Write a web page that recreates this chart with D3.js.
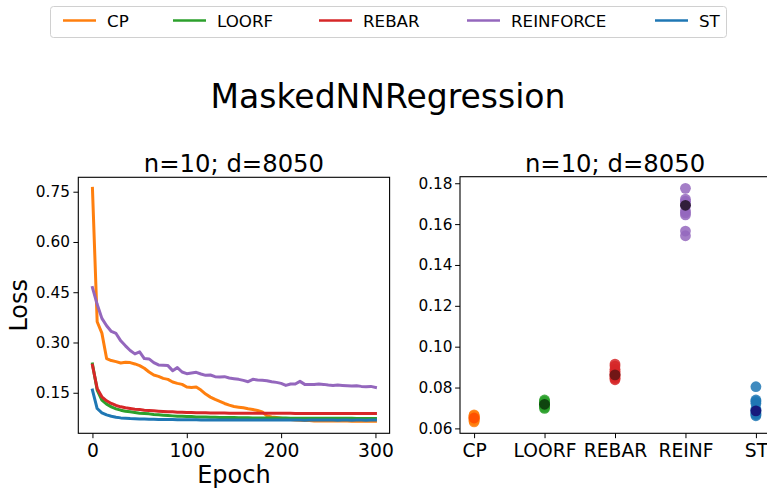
<!DOCTYPE html>
<html>
<head>
<meta charset="utf-8">
<script src="https://cdn.jsdelivr.net/npm/d3@7"></script>
<style>
  body { margin: 0; background: #fff; }
  text { font-family: "DejaVu Sans", sans-serif; fill: #000; }
</style>
</head>
<body>
<svg id="chart" width="767" height="489"></svg>
<script>
// series names, colours of the legend
const methods = ["CP", "LOORF", "REBAR", "REINFORCE", "ST"];
const colors = ["#ff7f0e", "#2ca02c", "#d62728", "#9467bd", "#1f77b4"];
const meanColors = ["#ff4f00", "#0e3f0e", "#6b1515", "#2b1a33", "#16167a"];

// loss logged every 5 epochs
const epochs = d3.range(0, 301, 5);

const lossCP = [
  0.760, 0.362, 0.328, 0.252, 0.246, 0.243, 0.239, 0.241, 0.240, 0.236,
  0.231, 0.223, 0.212, 0.203, 0.199, 0.193, 0.190, 0.182, 0.178, 0.175,
  0.167, 0.166, 0.167, 0.158, 0.146, 0.137, 0.130, 0.124, 0.118, 0.113,
  0.109, 0.107, 0.105, 0.102, 0.100, 0.097, 0.093, 0.081, 0.078, 0.076,
  0.074, 0.072, 0.070, 0.069, 0.068, 0.067, 0.067, 0.066, 0.066, 0.066,
  0.0655, 0.0655, 0.066, 0.0655, 0.0655, 0.065, 0.0655, 0.065, 0.065, 0.065,
  0.065
];
const lossLOORF = [
  0.236, 0.158, 0.128, 0.116, 0.108, 0.102, 0.098, 0.095, 0.093, 0.091,
  0.089, 0.088, 0.087, 0.085, 0.084, 0.083, 0.082, 0.081, 0.080, 0.080,
  0.079, 0.079, 0.078, 0.078, 0.0775, 0.077, 0.0768, 0.0765, 0.0762, 0.076,
  0.0758, 0.0756, 0.0754, 0.0752, 0.075, 0.0749, 0.0748, 0.0747, 0.0746, 0.0745,
  0.0744, 0.0743, 0.0742, 0.0741, 0.074, 0.074, 0.0739, 0.0739, 0.0738, 0.0738,
  0.0737, 0.0737, 0.0737, 0.0736, 0.0736, 0.0736, 0.0735, 0.0735, 0.0735, 0.0735,
  0.0734
];
const lossREBAR = [
  0.232, 0.163, 0.138, 0.126, 0.118, 0.112, 0.108, 0.105, 0.103, 0.101,
  0.100, 0.098, 0.097, 0.096, 0.095, 0.094, 0.093, 0.093, 0.092, 0.092,
  0.091, 0.091, 0.090, 0.090, 0.090, 0.0898, 0.0896, 0.0895, 0.0893, 0.0892,
  0.0891, 0.089, 0.089, 0.0889, 0.0888, 0.0888, 0.0887, 0.0887, 0.0886, 0.0886,
  0.0885, 0.0885, 0.0885, 0.0884, 0.0884, 0.0884, 0.0883, 0.0883, 0.0883, 0.0882,
  0.0882, 0.0882, 0.0881, 0.0881, 0.0881, 0.088, 0.088, 0.088, 0.088, 0.0879,
  0.0879
];
const lossREINFORCE = [
  0.464, 0.414, 0.372, 0.350, 0.333, 0.327, 0.305, 0.290, 0.276, 0.266,
  0.272, 0.252, 0.251, 0.240, 0.233, 0.232, 0.231, 0.216, 0.225, 0.212,
  0.207, 0.209, 0.211, 0.206, 0.202, 0.203, 0.198, 0.197, 0.198, 0.194,
  0.192, 0.190, 0.187, 0.183, 0.190, 0.188, 0.187, 0.186, 0.183, 0.181,
  0.178, 0.172, 0.176, 0.176, 0.184, 0.175, 0.175, 0.175, 0.176, 0.175,
  0.173, 0.172, 0.173, 0.172, 0.171, 0.170, 0.171, 0.169, 0.168, 0.169,
  0.166
];
const lossST = [
  0.158, 0.103, 0.090, 0.084, 0.080, 0.077, 0.075, 0.074, 0.073, 0.0725,
  0.072, 0.0715, 0.071, 0.0708, 0.0705, 0.0703, 0.0701, 0.070, 0.0698, 0.0697,
  0.0695, 0.0694, 0.0692, 0.0688, 0.069, 0.0689, 0.0688, 0.0686, 0.0688, 0.0687,
  0.0686, 0.0688, 0.0685, 0.0684, 0.0686, 0.0685, 0.0687, 0.0684, 0.0685, 0.0686,
  0.0685, 0.0684, 0.0686, 0.0684, 0.0687, 0.0683, 0.0685, 0.0684, 0.0686, 0.0684,
  0.0684, 0.0685, 0.0683, 0.0684, 0.0685, 0.0683, 0.0684, 0.0684, 0.0683, 0.0684,
  0.0684
];
const lossSeries = [lossCP, lossLOORF, lossREBAR, lossREINFORCE, lossST];

// final loss per run (right panel)
const catLabels = ["CP", "LOORF", "REBAR", "REINF", "ST"];
const finalCP = [0.0632, 0.0638, 0.0642, 0.0646, 0.0650, 0.0653, 0.0656, 0.0660, 0.0663, 0.0666];
const finalLOORF = [0.0698, 0.0703, 0.0708, 0.0712, 0.0716, 0.0719, 0.0723, 0.0728, 0.0733, 0.0739];
const finalREBAR = [0.0838, 0.0845, 0.0852, 0.0858, 0.0864, 0.0872, 0.0880, 0.0890, 0.0905, 0.0915];
const finalREINF = [0.1543, 0.1566, 0.1645, 0.1655, 0.1665, 0.1690, 0.1700, 0.1712, 0.1722, 0.1775];
const finalST = [0.0662, 0.0668, 0.0673, 0.0680, 0.0688, 0.0695, 0.0722, 0.0732, 0.0739, 0.0804];
const finalMeans = [0.0651, 0.0718, 0.0862, 0.1692, 0.0686];
const finalSeries = [finalCP, finalLOORF, finalREBAR, finalREINF, finalST];

const lossTicks = [0.15, 0.30, 0.45, 0.60, 0.75];
const epochTicks = [0, 100, 200, 300];
const finalTicks = [0.06, 0.08, 0.10, 0.12, 0.14, 0.16, 0.18];

const svg = d3.select('#chart');
svg.append('rect').attr('width', 767).attr('height', 489).attr('fill', '#fff');

// ---- legend
let legend = svg.append('g');
legend.append('rect')
  .attr('x', 50.5).attr('y', 6.5).attr('width', 676).attr('height', 31)
  .attr('rx', 3).attr('fill', '#fff').attr('stroke', '#d0d0d0');
const legendTextX = [107, 217, 363, 511, 699];
methods.forEach((m, i) => {
  legend.append('line')
    .attr('x1', legendTextX[i] - 44).attr('x2', legendTextX[i] - 11)
    .attr('y1', 20.5).attr('y2', 20.5)
    .attr('stroke', colors[i]).attr('stroke-width', 2.6);
  legend.append('text')
    .attr('x', legendTextX[i]).attr('y', 27.3)
    .style('font-size', '16.7px').text(m);
});

// ---- suptitle
svg.append('text').attr('x', 388).attr('y', 108.3).attr('text-anchor', 'middle')
  .style('font-size', '33px').text('MaskedNNRegression');

// ---- left panel: loss curves
const L = { left: 78.3, right: 389.6, top: 177.3, bottom: 433.3 };
const x = d3.scaleLinear().domain([-15, 315]).range([L.left, L.right]);
const y = d3.scaleLinear().domain([0.029, 0.793]).range([L.bottom, L.top]);

let left = svg.append('g');
let lineGen = d3.line().x((d, i) => x(epochs[i])).y(d => y(d));
lossSeries.forEach((s, i) => {
  left.append('path').datum(s)
    .attr('d', lineGen).attr('fill', 'none')
    .attr('stroke', colors[i]).attr('stroke-width', 3)
    .attr('stroke-linejoin', 'round').attr('stroke-linecap', 'square');
});

let yAxisL = left.append('g').attr('transform', `translate(${L.left},0)`)
  .call(d3.axisLeft(y).tickValues(lossTicks).tickFormat(d3.format('.2f')).tickSize(4.9).tickPadding(3.5));
yAxisL.select('.domain').remove();
yAxisL.selectAll('text').style('font-size', '15.3px').style('font-family', '"DejaVu Sans"');

let xAxisL = left.append('g').attr('transform', `translate(0,${L.bottom})`)
  .call(d3.axisBottom(x).tickValues(epochTicks).tickSize(4.9).tickPadding(5.2));
xAxisL.select('.domain').remove();
xAxisL.selectAll('text').style('font-size', '18.7px').style('font-family', '"DejaVu Sans"');

left.append('rect')
  .attr('x', L.left).attr('y', L.top).attr('width', L.right - L.left).attr('height', L.bottom - L.top)
  .attr('fill', 'none').attr('stroke', '#000').attr('stroke-width', 1.1);

left.append('text').attr('x', (L.left + L.right) / 2).attr('y', 171.7).attr('text-anchor', 'middle')
  .style('font-size', '24.3px').text('n=10; d=8050');
left.append('text').attr('x', (L.left + L.right) / 2).attr('y', 483.3).attr('text-anchor', 'middle')
  .style('font-size', '24px').text('Epoch');
left.append('text').attr('transform', `translate(26.5,${(L.top + L.bottom) / 2}) rotate(-90)`)
  .attr('text-anchor', 'middle').style('font-size', '24px').text('Loss');

// ---- right panel: final loss per method
const R = { left: 460, right: 770, top: 176.7, bottom: 433.3 };
const xr = d3.scaleLinear().domain([-0.2, 4.2]).range([R.left, R.right]);
const yr = d3.scaleLinear().domain([0.0576, 0.1832]).range([R.bottom, R.top]);

let right = svg.append('g');
finalSeries.forEach((vals, i) => {
  right.selectAll(null).data(vals).join('circle')
    .attr('cx', xr(i)).attr('cy', d => yr(d)).attr('r', 5.4)
    .attr('fill', colors[i]).attr('fill-opacity', 0.85);
  right.append('circle')
    .attr('cx', xr(i)).attr('cy', yr(finalMeans[i])).attr('r', 5.4)
    .attr('fill', meanColors[i]).attr('fill-opacity', 0.95);
});

let yAxisR = right.append('g').attr('transform', `translate(${R.left},0)`)
  .call(d3.axisLeft(yr).tickValues(finalTicks).tickFormat(d3.format('.2f')).tickSize(4.9).tickPadding(2.6));
yAxisR.select('.domain').remove();
yAxisR.selectAll('text').style('font-size', '15.3px').style('font-family', '"DejaVu Sans"');

let xAxisR = right.append('g').attr('transform', `translate(0,${R.bottom})`)
  .call(d3.axisBottom(xr).tickValues([0, 1, 2, 3, 4]).tickFormat(i => catLabels[i]).tickSize(4.9).tickPadding(5.2));
xAxisR.select('.domain').remove();
xAxisR.selectAll('text').style('font-size', '18.7px').style('font-family', '"DejaVu Sans"');

right.append('rect')
  .attr('x', R.left).attr('y', R.top).attr('width', R.right - R.left).attr('height', R.bottom - R.top)
  .attr('fill', 'none').attr('stroke', '#000').attr('stroke-width', 1.1);

right.append('text').attr('x', (R.left + R.right) / 2).attr('y', 171.7).attr('text-anchor', 'middle')
  .style('font-size', '24.3px').text('n=10; d=8050');
</script>
</body>
</html>
